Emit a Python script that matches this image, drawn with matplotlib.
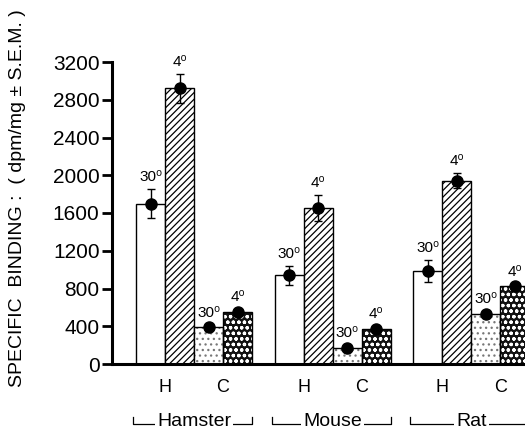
import matplotlib
matplotlib.use("Agg")
import matplotlib.pyplot as plt
import matplotlib.transforms as mtransforms
import numpy as np

plt.rcParams['font.family'] = ['Liberation Sans', 'DejaVu Sans']
plt.rcParams['hatch.linewidth'] = 0.9

species = ["Hamster", "Mouse", "Rat"]
tissues = ["H", "C"]
temps = ["30\u2070", "4\u2070"]

# values per species: [H 30°, H 4°, C 30°, C 4°]
values = {
    "Hamster": [1700, 2920, 390, 550],
    "Mouse":   [940, 1650, 170, 370],
    "Rat":     [985, 1940, 530, 825],
}
errors = {
    "Hamster": [150, 150, 20, 30],
    "Mouse":   [100, 140, 30, 30],
    "Rat":     [120, 80, 25, 25],
}
yticks = [0, 400, 800, 1200, 1600, 2000, 2400, 2800, 3200]
ylabel = "SPECIFIC  BINDING :  ( dpm/mg \u00b1 S.E.M. )"

W, H = 525, 432
fig = plt.figure(figsize=(W / 100, H / 100), dpi=100)
ax = fig.add_axes([112 / W, (H - 364) / H, (W - 112) / W, 302 / H])

group_step = 4.78
bw = 1.0
for g, sp in enumerate(species):
    x0 = g * group_step
    xs = x0 + np.arange(4) + 0.5
    v = values[sp]
    e = errors[sp]
    # H 30: white
    ax.bar(xs[0], v[0], width=bw, facecolor="white", edgecolor="black", lw=1.0, zorder=2)
    # H 4: hatched
    ax.bar(xs[1], v[1], width=bw, facecolor="white", edgecolor="black", hatch="/////", lw=1.0, zorder=2)
    # C 30: dotted
    ax.bar(xs[2], v[2], width=bw, facecolor="white", edgecolor="#777777", hatch="...", lw=0, zorder=2)
    ax.bar(xs[2], v[2], width=bw, fill=False, edgecolor="black", lw=1.0, zorder=3)
    # C 4: dark with white dots
    ax.bar(xs[3], v[3], width=bw, facecolor="#111111", edgecolor="white", hatch="ooo", lw=0, zorder=2)
    ax.bar(xs[3], v[3], width=bw, fill=False, edgecolor="black", lw=1.0, zorder=3)
    ax.errorbar(xs, v, yerr=e, fmt="o", color="black", ms=8, capsize=3, elinewidth=1.0,
                capthick=1.0, zorder=5)
    for k in range(4):
        ax.text(xs[k], v[k] + e[k] + 55, temps[k % 2], ha="center", va="bottom", fontsize=11)

ax.set_ylim(0, 3200)
ax.set_xlim(-0.83, (W - 136) / 29)
ax.set_yticks(yticks)
ax.set_yticklabels([str(t) for t in yticks], fontsize=15)
ax.tick_params(axis="y", length=7, width=2, pad=2, direction="out")
ax.tick_params(axis="x", length=0, labelbottom=False)
for s in ["top", "right"]:
    ax.spines[s].set_visible(False)
ax.spines["left"].set_linewidth(2.2)
ax.spines["bottom"].set_linewidth(2.2)
ax.patch.set_visible(False)

trans = mtransforms.blended_transform_factory(ax.transData, fig.transFigure)
for g, sp in enumerate(species):
    x0 = g * group_step
    # H / C labels
    ax.text(x0 + 1.0, (H - 388) / H, "H", transform=trans, ha="center", va="center", fontsize=13)
    ax.text(x0 + 3.0, (H - 388) / H, "C", transform=trans, ha="center", va="center", fontsize=13)
    # bracket
    yl = (H - 424) / H
    yt = (H - 417) / H
    xl = x0 - 0.1
    xr = x0 + 4.0
    if g < 2:
        ax.plot([xl, xl, xr, xr], [yt, yl, yl, yt], transform=trans, color="black", lw=0.9,
                clip_on=False)
    else:
        ax.plot([xl, xl, xr + 0.5], [yt, yl, yl], transform=trans, color="black", lw=0.9,
                clip_on=False)
    ax.text(x0 + 2.0, (H - 422) / H, sp, transform=trans, ha="center", va="center", fontsize=14,
            bbox=dict(facecolor="white", edgecolor="none", pad=1.5))

fig.text(18 / W, (H - 198) / H, ylabel, rotation=90, ha="center", va="center", fontsize=14)

fig.savefig("out.png", dpi=100)
